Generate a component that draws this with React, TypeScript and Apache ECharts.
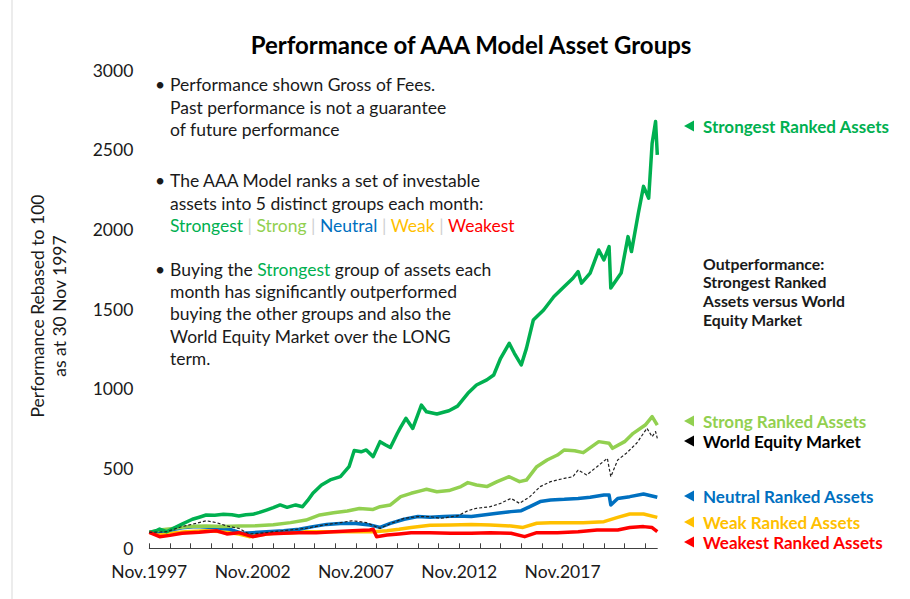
import React, { useEffect, useRef } from "react";
import * as echarts from "echarts";

// month index 0 = Nov 1997
const xTicks = [0, 12, 24, 36, 48, 60, 72, 84, 96, 108, 120, 132, 144, 156, 168, 180, 192, 204, 216, 228, 240, 252, 264, 276, 288];
const xLabelTicks = [0, 60, 120, 180, 240];
const xLabels = ["Nov.1997", "Nov.2002", "Nov.2007", "Nov.2012", "Nov.2017"];

const strongest: [number, number][] = [
  [0, 100], [4, 110], [6, 121], [10, 104], [14, 125], [19, 152], [25, 182], [29, 195], [33, 209], [38, 208],
  [43, 213], [48, 210], [52, 202], [56, 210], [60, 213], [64, 225], [68, 240], [72, 255], [76, 272], [80, 257],
  [85, 272], [89, 261], [92, 300], [95, 345], [100, 397], [105, 429], [111, 450], [116, 512], [119, 613], [123, 605],
  [126, 617], [130, 575], [134, 669], [137, 650], [140, 632], [144, 720], [146, 760], [149, 815], [153, 752], [158, 898],
  [161, 856], [167, 842], [174, 863], [179, 892], [185, 972], [190, 1024], [196, 1056], [200, 1087], [204, 1192], [209, 1286],
  [212, 1223], [216, 1150], [219, 1254], [223, 1432], [229, 1495], [235, 1579], [241, 1642], [246, 1694], [249, 1736], [251, 1663],
  [256, 1726], [261, 1871], [264, 1809], [267, 1892], [268, 1632], [274, 1726], [278, 1955], [280, 1861], [284, 2102], [287, 2270],
  [290, 2196], [292, 2541], [294, 2677], [295, 2468],
];

const strong: [number, number][] = [
  [0, 100], [6, 115], [14, 125], [23, 136], [33, 140], [43, 136], [52, 140], [62, 142], [72, 148], [82, 161],
  [91, 177], [99, 209], [107, 223], [115, 234], [122, 250], [130, 244], [134, 261], [140, 272], [146, 324], [152, 345],
  [158, 362], [161, 370], [167, 355], [174, 362], [181, 387], [185, 412], [190, 397], [196, 387], [202, 418], [209, 449],
  [215, 418], [219, 428], [225, 512], [231, 554], [237, 585], [241, 617], [247, 612], [252, 600], [261, 669], [267, 659],
  [269, 627], [276, 669], [281, 721], [288, 773], [292, 826], [295, 773],
];

const worldEquity: [number, number][] = [
  [0, 100], [10, 104], [19, 136], [27, 156], [33, 173], [39, 161], [45, 140], [52, 125], [58, 90], [64, 94],
  [72, 104], [82, 115], [91, 125], [101, 146], [111, 161], [118, 173], [126, 161], [134, 125], [140, 155], [148, 188],
  [156, 199], [163, 199], [169, 188], [179, 203], [185, 236], [190, 251], [198, 261], [204, 282], [210, 313], [215, 282],
  [221, 324], [227, 387], [233, 418], [241, 439], [246, 449], [249, 491], [254, 460], [260, 512], [266, 564], [268, 449],
  [272, 554], [277, 596], [283, 659], [289, 753], [292, 700], [294, 732], [295, 690],
];

const neutral: [number, number][] = [
  [0, 100], [10, 110], [19, 129], [27, 136], [37, 131], [47, 119], [54, 94], [60, 98], [68, 104], [78, 110],
  [87, 119], [95, 136], [103, 150], [111, 156], [120, 156], [128, 146], [134, 131], [140, 156], [148, 182], [156, 199],
  [163, 195], [171, 199], [179, 203], [187, 199], [194, 209], [202, 220], [210, 230], [216, 236], [221, 261], [227, 293],
  [233, 303], [241, 307], [249, 313], [256, 320], [264, 334], [267, 334], [268, 272], [272, 313], [279, 324], [287, 341],
  [295, 320],
];

const weak: [number, number][] = [
  [0, 100], [6, 88], [12, 94], [21, 104], [33, 110], [43, 104], [52, 90], [58, 73], [64, 83], [72, 94],
  [82, 98], [91, 104], [101, 104], [111, 104], [120, 104], [130, 104], [138, 110], [145, 119], [152, 131], [163, 144],
  [175, 146], [187, 150], [198, 146], [210, 140], [217, 131], [225, 157], [233, 161], [241, 161], [252, 161], [264, 167],
  [272, 194], [279, 215], [287, 215], [295, 194],
];

const weakest: [number, number][] = [
  [0, 100], [6, 73], [12, 81], [19, 94], [29, 100], [39, 110], [45, 90], [52, 98], [60, 73], [68, 90],
  [78, 94], [87, 98], [97, 98], [107, 104], [118, 110], [128, 115], [130, 119], [132, 73], [138, 83], [145, 90],
  [152, 98], [163, 98], [175, 94], [187, 94], [198, 98], [210, 94], [218, 73], [225, 98], [237, 98], [249, 104],
  [260, 115], [272, 115], [279, 131], [287, 136], [292, 130], [295, 105],
];

const outperformanceLines = ["Outperformance:", "Strongest Ranked", "Assets versus World", "Equity Market"];

const C = {
  strongest: "#00B050",
  strong: "#92D050",
  neutral: "#0070C0",
  weak: "#FFC000",
  weakest: "#FF0000",
  text: "#1a1a1a",
};

const FONT = "Lato, 'Open Sans', sans-serif";
const ANN = `17.5px ${FONT}`;
const BOLD = `bold 17px ${FONT}`;

export default function App() {
  const ref = useRef<HTMLDivElement>(null);
  useEffect(() => {
    if (!ref.current) return;
    const chart = echarts.init(ref.current, null, { renderer: "svg" });

    const line = (name: string, data: [number, number][], color: string, width: number, z: number, dashed = false) => ({
      name,
      type: "line",
      data,
      showSymbol: false,
      symbol: "none",
      z,
      lineStyle: { color, width, type: dashed ? [3, 2] : "solid", join: "round" },
      emphasis: { disabled: true },
    });

    const annText = (y: number, text: string, x = 170, rich?: any) => ({
      type: "text",
      x,
      y,
      style: {
        text,
        fill: C.text,
        font: ANN,
        verticalAlign: "middle",
        align: "left",
        rich,
      },
    });

    const bullet = (y: number) => ({
      type: "text",
      x: 160,
      y,
      style: { text: "•", fill: C.text, font: ANN, verticalAlign: "middle", align: "center" },
    });

    const rightLabel = (y: number, text: string, color: string) => ({
      type: "group",
      children: [
        {
          type: "polygon",
          shape: { points: [[684, y], [694, y - 5.5], [694, y + 5.5]] },
          style: { fill: color },
        },
        {
          type: "text",
          x: 703,
          y,
          style: { text, fill: color, font: BOLD, verticalAlign: "middle", align: "left" },
        },
      ],
    });

    const sepRich = {
      g: { fill: C.strongest, font: ANN },
      l: { fill: C.strong, font: ANN },
      b: { fill: C.neutral, font: ANN },
      y: { fill: C.weak, font: ANN },
      r: { fill: C.weakest, font: ANN },
      s: { fill: "#d0d0d0", font: ANN },
      k: { fill: C.text, font: ANN },
    };

    const outY = [263, 281.7, 300.4, 319.1];

    chart.setOption({
      animation: false,
      backgroundColor: "#ffffff",
      title: {
        text: "Performance of AAA Model Asset Groups",
        left: 466,
        top: 27,
        textAlign: "center",
        textStyle: { fontFamily: FONT, fontWeight: "bold", fontSize: 24, color: "#000" },
      },
      grid: { left: 149.3, right: 252.7, top: 70, bottom: 50.7, containLabel: false },
      xAxis: {
        type: "value",
        min: 0,
        max: 295,
        interval: 12,
        axisLine: { show: true, lineStyle: { color: "#404040", width: 1 } },
        axisTick: { show: true, inside: true, length: 5, lineStyle: { color: "#404040" }, customValues: xTicks },
        axisLabel: {
          customValues: xLabelTicks,
          formatter: (v: number) => {
            const i = xLabelTicks.indexOf(v);
            return i >= 0 ? xLabels[i] : "";
          },
          fontFamily: FONT,
          fontSize: 17.5,
          color: C.text,
          margin: 14,
        },
        splitLine: { show: false },
      },
      yAxis: {
        type: "value",
        min: 0,
        max: 3000,
        interval: 500,
        axisLine: { show: false },
        axisTick: { show: false },
        splitLine: { show: false },
        axisLabel: {
          fontFamily: FONT,
          fontSize: 17.5,
          color: C.text,
          margin: 16,
          formatter: (v: number) => String(v),
        },
      },
      series: [
        line("Strongest Ranked Assets", strongest, C.strongest, 3.5, 6),
        line("Strong Ranked Assets", strong, C.strong, 3.5, 5),
        line("Neutral Ranked Assets", neutral, C.neutral, 3.5, 4),
        line("Weak Ranked Assets", weak, C.weak, 3.5, 3),
        line("Weakest Ranked Assets", weakest, C.weakest, 3.5, 7),
        line("World Equity Market", worldEquity, "#222222", 1.2, 8, true),
      ],
      graphic: [
        { type: "line", shape: { x1: 12, y1: 0, x2: 12, y2: 599 }, style: { stroke: "#d9d9d9", lineWidth: 1 } },
        {
          type: "text",
          x: 48,
          y: 306,
          rotation: Math.PI / 2,
          style: {
            text: "Performance Rebased to 100\nas at 30 Nov 1997",
            fill: C.text,
            font: ANN,
            align: "center",
            verticalAlign: "middle",
            lineHeight: 22,
          },
        },
        bullet(84),
        annText(84, "Performance shown Gross of Fees."),
        annText(107, "Past performance is not a guarantee"),
        annText(129, "of future performance"),
        bullet(180),
        annText(180, "The AAA Model ranks a set of investable"),
        annText(203, "assets into 5 distinct groups each month:"),
        annText(
          225,
          "{g|Strongest} {s||} {l|Strong} {s||} {b|Neutral} {s||} {y|Weak} {s||} {r|Weakest}",
          170,
          sepRich
        ),
        bullet(269),
        annText(269, "{k|Buying the }{g|Strongest}{k| group of assets each}", 170, sepRich),
        annText(291, "month has significantly outperformed"),
        annText(313, "buying the other groups and also the"),
        annText(336, "World Equity Market over the LONG"),
        annText(358, "term."),
        rightLabel(126, "Strongest Ranked Assets", C.strongest),
        ...outperformanceLines.map((t, i) => ({
          type: "text",
          x: 703,
          y: outY[i],
          style: {
            text: t,
            fill: C.text,
            font: `bold 15.8px ${FONT}`,
            align: "left",
            verticalAlign: "middle",
          },
        })),
        rightLabel(421, "Strong Ranked Assets", C.strong),
        rightLabel(441, "World Equity Market", "#000000"),
        rightLabel(496, "Neutral Ranked Assets", C.neutral),
        rightLabel(522, "Weak Ranked Assets", C.weak),
        rightLabel(542, "Weakest Ranked Assets", C.weakest),
      ],
    });

    return () => chart.dispose();
  }, []);

  return (
    <div
      ref={ref}
      style={{ position: "fixed", left: 0, top: 0, width: 910, height: 599, background: "#fff" }}
    />
  );
}
